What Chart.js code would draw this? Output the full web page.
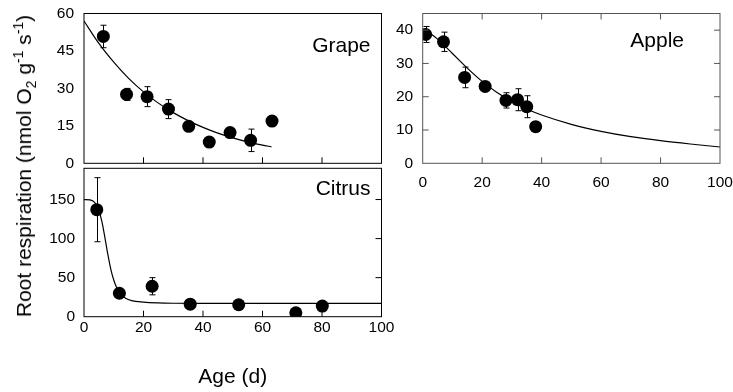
<!DOCTYPE html>
<html>
<head>
<meta charset="utf-8">
<script src="https://cdn.jsdelivr.net/npm/chart.js@4/dist/chart.umd.min.js"></script>
<style>
    body { margin: 0; background: #fff; width: 733px; height: 392px; position: relative; overflow: hidden; font-family: "Liberation Sans", Arial, sans-serif; }
    canvas { position: absolute; }
    #ytitle { position: absolute; left: 24px; top: 166px; transform: translate(-50%, -50%) rotate(-90deg); white-space: nowrap; font-size: 21px; line-height: 24px; color: #000; }
    #ytitle sub, #ytitle sup { font-size: 14px; line-height: 0; }
</style>
</head>
<body>
<canvas id="citrus" width="405" height="226" style="left:0;top:166px"></canvas>
<canvas id="grape" width="390" height="176" style="left:0;top:0"></canvas>
<canvas id="apple" width="343" height="200" style="left:390px;top:0"></canvas>
<div id="ytitle">Root respiration (nmol O<sub>2</sub> g<sup>-1</sup> s<sup>-1</sup>)</div>
<script>
// Ticks
const xTicks = [0, 20, 40, 60, 80, 100];
const grapeYTicks = [0, 15, 30, 45, 60];
const appleYTicks = [0, 10, 20, 30, 40];
const citrusYTicks = [0, 50, 100, 150];

// Grape
const grapeAge = [6.5, 14.3, 21.2, 28.4, 35.2, 42.1, 49.1, 56, 63.2];
const grapeResp = [50.8, 27.6, 26.7, 21.7, 14.8, 8.5, 12.3, 9.2, 16.9];
const grapeErr = [4.5, 2.4, 4, 3.8, 0, 0, 0, 4.5, 0];
const grapeFitAge = [0, 5, 10, 15, 20, 25, 30, 35, 40, 45, 50, 55, 60, 63];
const grapeFitResp = [57, 48, 40.5, 34, 28.6, 24.1, 20.3, 17.1, 14.4, 12.1, 10.2, 8.6, 7.3, 6.6];

// Apple
const appleAge = [1, 7, 14.1, 21, 28, 31.9, 35, 38];
const appleResp = [38.7, 36.5, 25.8, 23.1, 18.9, 19.1, 17, 11];
const appleErr = [2.4, 2.9, 3.1, 0, 2.3, 3.3, 3.3, 0];
const appleFitAge = [1, 5, 10, 15, 20, 25, 30, 35, 40, 50, 60, 70, 80, 90, 100];
const appleFitResp = [40, 37.3, 33, 28.6, 24.6, 21.3, 18.6, 16.3, 14.5, 11.7, 9.6, 8.0, 6.8, 5.8, 4.9];

// Citrus
const citrusAge = [4.3, 11.9, 22.9, 35.7, 52, 71.2, 80.1];
const citrusResp = [137, 30, 39, 16, 15.3, 5, 13.6];
const citrusErr = [41, 0, 11, 0, 0, 0, 0];
const citrusFitAge = [0, 2, 3, 4, 5, 6, 7, 8, 9, 10, 11, 12, 14, 16, 20, 25, 30, 40, 100];
const citrusFitResp = [150, 149.5, 148, 144, 136, 122, 102, 80, 61, 47, 37, 30.5, 23.5, 20.5, 18.6, 17.6, 17.2, 17, 17];

Chart.defaults.font.family = '"Liberation Sans", Arial, sans-serif';
Chart.defaults.font.size = 15.5;
Chart.defaults.color = '#000';

const toXY = (xs, ys) => xs.map((v, i) => ({ x: v, y: ys[i] }));

// frame, inward ticks, error bars and panel name
const panelPlugin = {
    id: 'panel',
    beforeDatasetsDraw(chart, args, o) {
        const { ctx, scales: { x, y } } = chart;
        ctx.save();
        ctx.strokeStyle = '#000';
        ctx.lineWidth = 1;
        ctx.beginPath();
        o.errX.forEach((xv, i) => {
            const e = o.err[i];
            if (!e) return;
            const px = Math.round(x.getPixelForValue(xv)) + 0.5;
            const top = y.getPixelForValue(o.errY[i] + e);
            const bot = y.getPixelForValue(o.errY[i] - e);
            ctx.moveTo(px, top); ctx.lineTo(px, bot);
            ctx.moveTo(px - 3, top); ctx.lineTo(px + 3, top);
            ctx.moveTo(px - 3, bot); ctx.lineTo(px + 3, bot);
        });
        ctx.stroke();
        ctx.restore();
    },
    afterDraw(chart, args, o) {
        const { ctx, chartArea: a, scales: { x, y } } = chart;
        const L = 6;
        ctx.save();
        ctx.strokeStyle = o.color;
        ctx.lineWidth = 1;
        ctx.strokeRect(a.left, a.top, a.right - a.left, a.bottom - a.top);
        ctx.beginPath();
        (o.bottom || []).forEach(v => { const p = x.getPixelForValue(v); ctx.moveTo(p, a.bottom); ctx.lineTo(p, a.bottom - L); });
        (o.top || []).forEach(v => { const p = x.getPixelForValue(v); ctx.moveTo(p, a.top); ctx.lineTo(p, a.top + L); });
        (o.left || []).forEach(v => { const p = y.getPixelForValue(v); ctx.moveTo(a.left, p); ctx.lineTo(a.left + L, p); });
        (o.right || []).forEach(v => { const p = y.getPixelForValue(v); ctx.moveTo(a.right, p); ctx.lineTo(a.right - L, p); });
        ctx.stroke();
        ctx.fillStyle = '#000';
        ctx.font = '21px "Liberation Sans", Arial, sans-serif';
        ctx.textAlign = 'right';
        ctx.textBaseline = 'alphabetic';
        ctx.fillText(o.label, a.right - o.labelRight, a.top + o.labelBase);
        ctx.restore();
    }
};

function makePanel(id, p) {
    return new Chart(document.getElementById(id), {
        type: 'scatter',
        data: {
            datasets: [{
                data: toXY(p.age, p.resp),
                backgroundColor: '#000',
                borderWidth: 0,
                pointRadius: 6.5,
                pointHoverRadius: 6.5
            }, {
                data: toXY(p.fitAge, p.fitResp),
                showLine: true,
                borderColor: '#000',
                borderWidth: 1.2,
                pointRadius: 0,
                cubicInterpolationMode: 'monotone'
            }]
        },
        options: {
            responsive: false,
            animation: false,
            layout: { autoPadding: false, padding: p.padding },
            plugins: {
                legend: { display: false },
                tooltip: { enabled: false },
                panel: p.panel
            },
            scales: {
                x: {
                    min: 0, max: 100,
                    grid: { display: false, drawTicks: false },
                    border: { display: false },
                    ticks: { display: p.xLabels, padding: p.xPad, maxRotation: 0 },
                    afterBuildTicks: s => { s.ticks = xTicks.map(v => ({ value: v })); },
                    afterFit: s => { s.height = p.xHeight; s.paddingLeft = 0; s.paddingRight = 0; },
                    title: p.xTitle || { display: false }
                },
                y: {
                    min: 0, max: p.yMax,
                    grid: { display: false, drawTicks: false },
                    border: { display: false },
                    ticks: { padding: p.yPad },
                    afterBuildTicks: s => { s.ticks = p.yTicks.map(v => ({ value: v })); },
                    afterFit: s => { s.width = p.yWidth; s.paddingTop = 0; s.paddingBottom = 0; }
                }
            }
        },
        plugins: [panelPlugin]
    });
}

makePanel('grape', {
    age: grapeAge, resp: grapeResp, fitAge: grapeFitAge, fitResp: grapeFitResp,
    yMax: 60, yTicks: grapeYTicks, yWidth: 84, yPad: 10,
    xLabels: false, xHeight: 12.7, xPad: 0,
    padding: { top: 13.5, right: 8.5, bottom: 0, left: 0 },
    panel: {
        color: '#000', label: 'Grape', labelRight: 11, labelBase: 38.2,
        bottom: [20, 40, 60, 80],
        errX: grapeAge, errY: grapeResp, err: grapeErr
    }
});

makePanel('apple', {
    age: appleAge, resp: appleResp, fitAge: appleFitAge, fitResp: appleFitResp,
    yMax: 45, yTicks: appleYTicks, yWidth: 32.7, yPad: 9.5,
    xLabels: true, xHeight: 36.7, xPad: 10,
    padding: { top: 13.5, right: 13, bottom: 0, left: 0 },
    panel: {
        color: '#555', label: 'Apple', labelRight: 36, labelBase: 33.2,
        bottom: [20, 40, 60, 80], top: [20, 40, 60, 80],
        left: [10, 20, 30, 40], right: [10, 20, 30, 40],
        errX: appleAge, errY: appleResp, err: appleErr
    }
});

makePanel('citrus', {
    age: citrusAge, resp: citrusResp, fitAge: citrusFitAge, fitResp: citrusFitResp,
    yMax: 190, yTicks: citrusYTicks, yWidth: 84, yPad: 9,
    xLabels: true, xHeight: 75.3, xPad: 2,
    xTitle: { display: true, text: 'Age (d)', font: { size: 21 }, padding: { top: 0, bottom: 2 } },
    padding: { top: 2.3, right: 23.5, bottom: 0, left: 0 },
    panel: {
        color: '#000', label: 'Citrus', labelRight: 11, labelBase: 26.7,
        bottom: [20, 40, 60, 80], right: [50, 100, 150],
        errX: citrusAge, errY: citrusResp, err: citrusErr
    }
});
</script>
</body>
</html>
